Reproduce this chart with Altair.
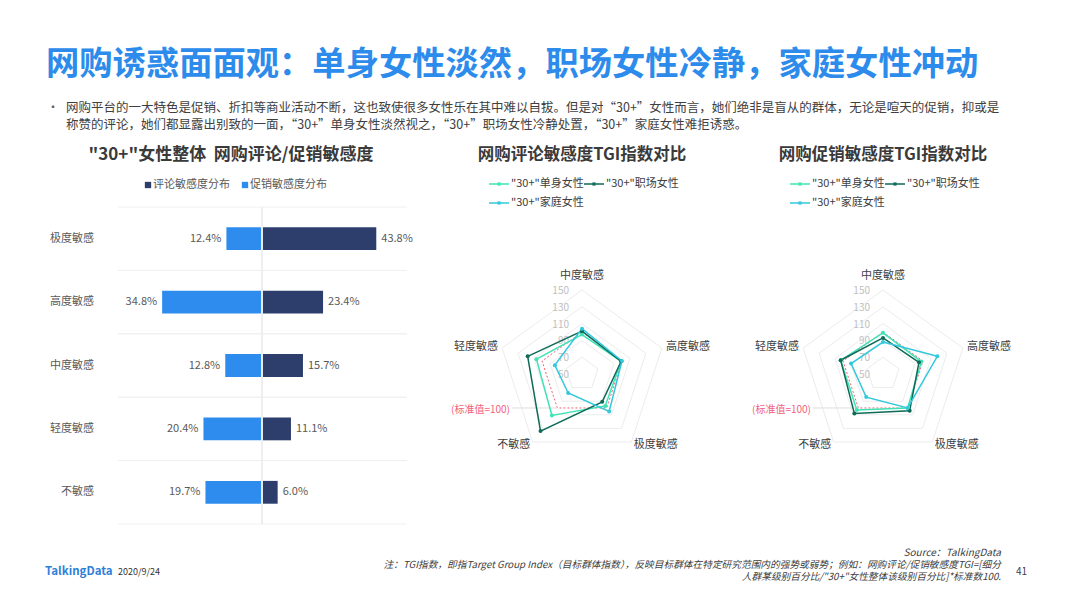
import altair as alt
import pandas as pd

FONT = "Noto Sans CJK SC"

# ---------------- data ----------------
levels = ["极度敏感", "高度敏感", "中度敏感", "轻度敏感", "不敏感"]
review_share = [43.8, 23.4, 15.7, 11.1, 6.0]
promo_share = [12.4, 34.8, 12.8, 20.4, 19.7]

radar_axes = ["中度敏感", "高度敏感", "极度敏感", "不敏感", "轻度敏感"]
groups = ['"30+"单身女性', '"30+"职场女性', '"30+"家庭女性']
group_colors = ["#3fe3b5", "#0e6b58", "#33c8dc"]

review_tgi = {
    groups[0]: [97, 99, 97, 111, 107],
    groups[1]: [101, 99, 91, 134, 118],
    groups[2]: [104, 100, 105, 78, 84],
}
promo_tgi = {
    groups[0]: [99, 98, 100, 103, 103],
    groups[1]: [93, 95, 104, 108, 103],
    groups[2]: [88, 118, 100, 84, 90],
}
ring_values = [70, 90, 110, 130, 150]
tick_values = [150, 130, 110, 90, 70, 50]
standard_value = 100

TEXT = "#404040"


def txt(text, x, y, size=12, color=TEXT, align="left", weight="normal",
        style="normal", baseline="middle"):
    return alt.Chart(pd.DataFrame({"t": [text]})).mark_text(
        font=FONT, fontSize=size, color=color, align=align, fontWeight=weight,
        fontStyle=style, baseline=baseline
    ).encode(x=alt.value(x), y=alt.value(y), text="t:N")


layers = []

# ---------------- headline ----------------
layers.append(txt("网购诱惑面面观：单身女性淡然，职场女性冷静，家庭女性冲动", 46, 65,
                  size=33.3, color="#2d8ceb", weight="bold"))
layers.append(txt("•", 47, 108, size=12, color="#595959"))
layers.append(txt("网购平台的一大特色是促销、折扣等商业活动不断，这也致使很多女性乐在其中难以自拔。但是对“30+”女性而言，她们绝非是盲从的群体，无论是喧天的促销，抑或是",
                  66, 108, size=12.5, color="#404040"))
layers.append(txt("称赞的评论，她们都显露出别致的一面，“30+”单身女性淡然视之，“30+”职场女性冷静处置，“30+”家庭女性难拒诱惑。",
                  66, 125, size=12.5, color="#404040"))

# ---------------- left: diverging bars ----------------
bar_df = pd.DataFrame({"level": levels, "review": review_share, "promo": promo_share})
yband = alt.Scale(domain=levels, range=[207, 524], paddingInner=0.64, paddingOuter=0.32)
ysep = alt.Scale(domain=levels, range=[207, 524], paddingInner=0, paddingOuter=0)
xleft = alt.Scale(domain=[0, 50], range=[262, 118.5])
xright = alt.Scale(domain=[0, 55], range=[262, 405.5])

layers.append(txt('"30+"女性整体\u00a0\u00a0网购评论/促销敏感度', 231, 155, size=17, color="#3a3a3a",
                  align="center", weight="bold"))
# legend
layers.append(alt.Chart(pd.DataFrame({"c": ["#2d3e6c", "#2e8cee"], "x": [148, 245]})).mark_square(
    size=40, opacity=1).encode(x=alt.X("x:Q", scale=alt.Scale(domain=[0, 1066], range=[0, 1066]), axis=None),
                               y=alt.value(185), color=alt.Color("c:N", scale=None)))
layers.append(txt("评论敏感度分布", 153, 185, size=11, color="#595959"))
layers.append(txt("促销敏感度分布", 250, 185, size=11, color="#595959"))

for bp in [0, 1]:
    layers.append(alt.Chart(bar_df).mark_rule(color="#f0f0f0", strokeWidth=1).encode(
        y=alt.Y("level:N", scale=ysep, axis=None, bandPosition=bp),
        x=alt.value(118), x2=alt.value(407)))

layers.append(alt.Chart(bar_df).mark_bar(color="#2e8cee").encode(
    y=alt.Y("level:N", scale=yband, axis=None),
    x=alt.X("promo:Q", scale=xleft, axis=None)))
layers.append(alt.Chart(bar_df).mark_bar(color="#2d3e6c").encode(
    y=alt.Y("level:N", scale=yband, axis=None),
    x=alt.X("review:Q", scale=xright, axis=None)))
layers.append(alt.Chart(bar_df).mark_rule(color="#eeeeee", strokeWidth=1).encode(
    x=alt.X(datum=0, scale=xleft, axis=None), y=alt.value(207), y2=alt.value(524)))
layers.append(alt.Chart(bar_df).transform_calculate(lab="format(datum.promo, '.1f') + '%'").mark_text(
    font=FONT, fontSize=11, color="#595959", align="right", dx=-5).encode(
    y=alt.Y("level:N", scale=yband, axis=None),
    x=alt.X("promo:Q", scale=xleft, axis=None), text="lab:N"))
layers.append(alt.Chart(bar_df).transform_calculate(lab="format(datum.review, '.1f') + '%'").mark_text(
    font=FONT, fontSize=11, color="#595959", align="left", dx=5).encode(
    y=alt.Y("level:N", scale=yband, axis=None),
    x=alt.X("review:Q", scale=xright, axis=None), text="lab:N"))
layers.append(alt.Chart(bar_df).mark_text(
    font=FONT, fontSize=11, color="#595959", align="right").encode(
    y=alt.Y("level:N", scale=yband, axis=None), x=alt.value(94), text="level:N"))


# ---------------- radars ----------------
def polar(chart, rfield="r"):
    return chart.transform_calculate(
        ang="PI/2 - datum.idx * 2 * PI / 5"
    ).transform_calculate(
        px=f"datum.{rfield} * cos(datum.ang)", py=f"datum.{rfield} * sin(datum.ang)")


def radar(cx, cy, title, data):
    R = 84
    xs = alt.Scale(domain=[-1, 1], range=[cx - R, cx + R])
    ys = alt.Scale(domain=[-1, 1], range=[cy + R, cy - R])
    out = []
    out.append(txt(title, cx, 155, size=16.5, color="#3a3a3a", align="center", weight="bold"))
    # legend
    leg = [(cx - 93, 184, 0), (cx + 2, 184, 1), (cx - 93, 203, 2)]
    for lx, ly, gi in leg:
        out.append(alt.Chart(pd.DataFrame({"g": [groups[gi]]})).mark_rule(
            color=group_colors[gi], strokeWidth=1.5).encode(
            x=alt.value(lx), x2=alt.value(lx + 20), y=alt.value(ly)))
        out.append(alt.Chart(pd.DataFrame({"g": [groups[gi]]})).mark_square(
            color=group_colors[gi], size=10, opacity=1).encode(x=alt.value(lx + 10), y=alt.value(ly)))
        out.append(txt(groups[gi], lx + 22, ly, size=11, color="#404040"))

    # grid rings
    rows = [{"ring": v, "idx": i, "r": (v - 50) / 100} for v in ring_values for i in range(5)]
    out.append(polar(alt.Chart(pd.DataFrame(rows))).mark_line(
        color="#ececec", strokeWidth=1, interpolate="linear-closed").encode(
        x=alt.X("px:Q", scale=xs, axis=None), y=alt.Y("py:Q", scale=ys, axis=None),
        detail="ring:N", order=alt.Order("idx:Q")))
    # tick labels
    tdf = pd.DataFrame({"v": tick_values})
    out.append(alt.Chart(tdf).transform_calculate(r="(datum.v - 50) / 100").mark_text(
        font=FONT, fontSize=10, color="#c0c0c0", align="right", dx=-13, dy=1).encode(
        x=alt.X(datum=0, scale=xs, axis=None),
        y=alt.Y("r:Q", scale=ys, axis=None), text="v:N"))
    # standard line
    sdf = pd.DataFrame({"idx": list(range(5)), "r": [(standard_value - 50) / 100] * 5})
    out.append(polar(alt.Chart(sdf)).mark_line(
        color="#f2607c", strokeWidth=1, strokeDash=[2, 2], interpolate="linear-closed").encode(
        x=alt.X("px:Q", scale=xs, axis=None), y=alt.Y("py:Q", scale=ys, axis=None),
        order=alt.Order("idx:Q")))
    # standard label connector
    out.append(polar(alt.Chart(sdf[sdf.idx == 3])).mark_rule(color="#dddddd", strokeWidth=1).encode(
        x=alt.X("px:Q", scale=xs, axis=None), x2=alt.value(cx - 70),
        y=alt.Y("py:Q", scale=ys, axis=None)))
    out.append(txt("(标准值=100)", cx - 72, cy + 36, size=10, color="#f2607c", align="right"))
    # series
    rows = []
    for g in groups:
        for i, (a, v) in enumerate(zip(radar_axes, data[g])):
            rows.append({"group": g, "axis": a, "idx": i, "value": v})
    sdata = pd.DataFrame(rows)
    base = polar(alt.Chart(sdata).transform_calculate(r="(datum.value - 50) / 100"))
    cscale = alt.Scale(domain=groups, range=group_colors)
    out.append(base.mark_line(strokeWidth=1.5, interpolate="linear-closed").encode(
        x=alt.X("px:Q", scale=xs, axis=None), y=alt.Y("py:Q", scale=ys, axis=None),
        color=alt.Color("group:N", scale=cscale, legend=None), order=alt.Order("idx:Q")))
    out.append(base.mark_circle(size=16, opacity=1).encode(
        x=alt.X("px:Q", scale=xs, axis=None), y=alt.Y("py:Q", scale=ys, axis=None),
        color=alt.Color("group:N", scale=cscale, legend=None)))
    # axis labels
    adf = pd.DataFrame({"axis": radar_axes, "idx": list(range(5)), "r": [1.05] * 5})
    specs = [([0], "center", "bottom", -5), ([1, 2], "left", "middle", 0), ([3, 4], "right", "middle", 0)]
    for ids, al, bl, dy in specs:
        out.append(polar(alt.Chart(adf[adf.idx.isin(ids)])).mark_text(
            font=FONT, fontSize=11, color="#404040", align=al, baseline=bl, dy=dy).encode(
            x=alt.X("px:Q", scale=xs, axis=None), y=alt.Y("py:Q", scale=ys, axis=None),
            text="axis:N"))
    return out


layers += radar(582, 374, "网购评论敏感度TGI指数对比", review_tgi)
layers += radar(883, 374, "网购促销敏感度TGI指数对比", promo_tgi)

# ---------------- footer ----------------
layers.append(txt("Source：TalkingData", 1001, 553, size=10, color="#404040", align="right", style="italic"))
layers.append(txt("注：TGI指数，即指Target Group Index（目标群体指数），反映目标群体在特定研究范围内的强势或弱势；例如：网购评论/促销敏感度TGI=[细分",
                  1001, 565, size=9.7, color="#404040", align="right", style="italic"))
layers.append(txt("人群某级别百分比/\"30+\"女性整体该级别百分比]*标准数100.", 1001, 577, size=9.7,
                  color="#404040", align="right", style="italic"))
layers.append(txt("41", 1016, 572, size=10, color="#404040"))
layers.append(txt("TalkingData", 45, 572, size=11.5, color="#2e7fd9", weight="bold"))
layers.append(txt("2020/9/24", 118, 572, size=9, color="#333333"))

chart = alt.layer(*layers).resolve_scale(
    x="independent", y="independent", color="independent"
).properties(
    width=1066, height=599, autosize=alt.AutoSizeParams(type="none"), padding=0,
    background="white"
).configure_view(strokeWidth=0)

chart.save("out.html", embed_options={"renderer": "svg", "actions": False})
